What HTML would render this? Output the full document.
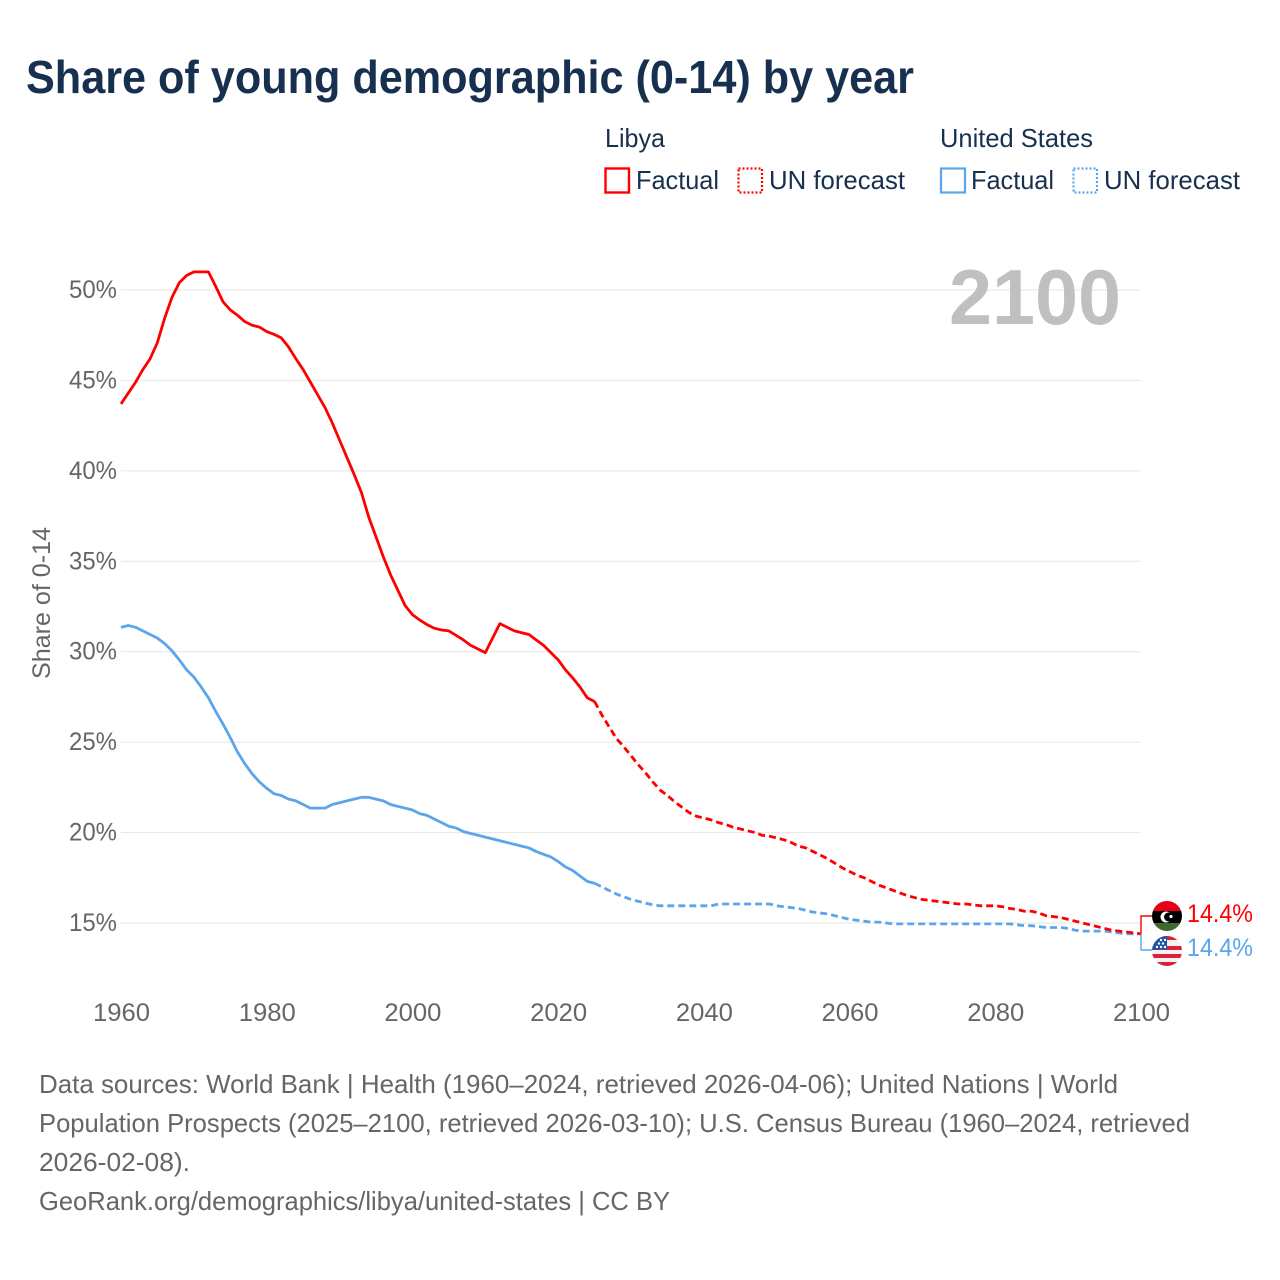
<!DOCTYPE html>
<html lang="en">
<head>
<meta charset="utf-8">
<title>Share of young demographic (0-14) by year</title>
<style>
html,body{margin:0;padding:0;background:#fff;width:1280px;height:1280px;overflow:hidden}
svg{display:block;font-family:"Liberation Sans",sans-serif}
.legend{font-size:26px;fill:#18304f}
.foot{font-size:26px;fill:#666}
.tick{font-size:25px;fill:#666}
</style>
</head>
<body>
<svg id="chart" width="1280" height="1280" viewBox="0 0 1280 1280" xmlns="http://www.w3.org/2000/svg">
  <text x="26" y="93" font-size="46" font-weight="700" fill="#18304f" textLength="888" lengthAdjust="spacingAndGlyphs">Share of young demographic (0-14) by year</text>

  <g>
    <text class="legend" x="605" y="147" textLength="60" lengthAdjust="spacingAndGlyphs">Libya</text>
    <rect x="605.5" y="168.5" width="23.5" height="24" fill="none" stroke="#ff0000" stroke-width="2.4"/>
    <text class="legend" x="636" y="189" textLength="83" lengthAdjust="spacingAndGlyphs">Factual</text>
    <rect x="738.5" y="168.5" width="23.5" height="24" fill="none" stroke="#ff0000" stroke-width="2.2" stroke-dasharray="2 2"/>
    <text class="legend" x="769" y="189" textLength="136" lengthAdjust="spacingAndGlyphs">UN forecast</text>

    <text class="legend" x="940" y="147" textLength="153" lengthAdjust="spacingAndGlyphs">United States</text>
    <rect x="941" y="168.5" width="24" height="24" fill="none" stroke="#5ba5ec" stroke-width="2.2"/>
    <text class="legend" x="971" y="189" textLength="83" lengthAdjust="spacingAndGlyphs">Factual</text>
    <rect x="1073.5" y="168.5" width="23.5" height="24" fill="none" stroke="#5ba5ec" stroke-width="2.2" stroke-dasharray="2 2"/>
    <text class="legend" x="1104" y="189" textLength="136" lengthAdjust="spacingAndGlyphs">UN forecast</text>
  </g>

  <g id="grid"></g>
  <text x="949" y="324" font-size="78" font-weight="700" fill="#c0c0c0" textLength="172" lengthAdjust="spacingAndGlyphs">2100</text>
  <g id="yLabels"></g>
  <g id="xLabels"></g>
  <text transform="translate(50,679) rotate(-90)" font-size="25" fill="#666" textLength="152" lengthAdjust="spacingAndGlyphs">Share of 0-14</text>
  <g id="series"></g>

  <defs>
    <clipPath id="clip-libya"><circle cx="1167" cy="916" r="15"/></clipPath>
    <clipPath id="clip-us"><circle cx="1167" cy="951" r="15"/></clipPath>
  </defs>
  <g clip-path="url(#clip-libya)">
    <rect x="1150" y="900" width="34" height="11" fill="#e70013"/>
    <rect x="1150" y="911" width="34" height="12" fill="#000"/>
    <rect x="1150" y="923" width="34" height="10" fill="#3f6a2b"/>
    <circle cx="1166" cy="917" r="5.5" fill="#fff"/>
    <circle cx="1168.5" cy="917" r="4.5" fill="#000"/>
    <circle cx="1171" cy="916.5" r="1.6" fill="#fff"/>
  </g>
  <g clip-path="url(#clip-us)">
    <rect x="1150" y="935" width="34" height="33" fill="#f2f2f2"/>
    <rect x="1150" y="935" width="34" height="5" fill="#d8233a"/>
    <rect x="1150" y="946" width="34" height="4" fill="#d8233a"/>
    <rect x="1150" y="954" width="34" height="4" fill="#d8233a"/>
    <rect x="1150" y="962" width="34" height="5" fill="#d8233a"/>
    <rect x="1150" y="935" width="17" height="14.5" fill="#1a52a8"/>
    <g fill="#fff">
      <circle cx="1157" cy="947" r="1.2"/><circle cx="1161" cy="947" r="1.2"/><circle cx="1165" cy="947" r="1.2"/>
      <circle cx="1159" cy="943.5" r="1.2"/><circle cx="1163" cy="943.5" r="1.2"/>
      <circle cx="1161" cy="940" r="1.2"/><circle cx="1165" cy="940" r="1.2"/>
    </g>
  </g>

  <g>
    <text class="foot" x="39" y="1093" textLength="1079" lengthAdjust="spacingAndGlyphs">Data sources: World Bank | Health (1960–2024, retrieved 2026-04-06); United Nations | World</text>
    <text class="foot" x="39" y="1132" textLength="1151" lengthAdjust="spacingAndGlyphs">Population Prospects (2025–2100, retrieved 2026-03-10); U.S. Census Bureau (1960–2024, retrieved</text>
    <text class="foot" x="39" y="1171" textLength="151" lengthAdjust="spacingAndGlyphs">2026-02-08).</text>
    <text class="foot" x="39" y="1210" textLength="631" lengthAdjust="spacingAndGlyphs">GeoRank.org/demographics/libya/united-states | CC BY</text>
  </g>
</svg>

<script>
const xTicks = [1960, 1980, 2000, 2020, 2040, 2060, 2080, 2100];
const yTicks = [15, 20, 25, 30, 35, 40, 45, 50];
const factualStartYear = 1960;
const forecastStartYear = 2025;

const libyaFactual = [
  43.7,44.3,44.9,45.6,46.2,47.1,48.45,49.6,50.4,50.8,
  51.0,51.0,51.0,50.2,49.35,48.9,48.6,48.25,48.05,47.95,
  47.7,47.55,47.35,46.85,46.2,45.6,44.9,44.2,43.5,42.65,
  41.7,40.75,39.8,38.8,37.45,36.35,35.25,34.25,33.4,32.55,
  32.05,31.75,31.5,31.3,31.2,31.15,30.9,30.65,30.35,30.15,
  29.95,30.75,31.55,31.35,31.15,31.05,30.95,30.65,30.35,29.95,
  29.55,29.0,28.55,28.05,27.45,27.25
];
const libyaForecast = [
  27.25,26.5,25.85,25.2,24.75,
  24.25,23.75,23.3,22.8,22.35,22.05,21.7,21.4,21.1,20.9,
  20.8,20.7,20.55,20.45,20.3,20.2,20.1,20.0,19.85,19.8,
  19.7,19.6,19.45,19.25,19.15,18.95,18.75,18.55,18.3,18.05,
  17.85,17.65,17.5,17.3,17.1,16.95,16.8,16.65,16.5,16.4,
  16.3,16.25,16.2,16.15,16.1,16.05,16.05,16.0,15.95,15.95,
  15.95,15.9,15.8,15.75,15.65,15.65,15.55,15.4,15.35,15.3,
  15.2,15.1,15.0,14.9,14.8,14.7,14.6,14.55,14.5,14.45,
  14.4
];
const usFactual = [
  31.35,31.45,31.35,31.15,30.95,30.75,30.45,30.05,29.55,29.0,
  28.6,28.05,27.45,26.7,26.0,25.25,24.45,23.8,23.25,22.8,
  22.45,22.15,22.05,21.85,21.75,21.55,21.35,21.35,21.35,21.55,
  21.65,21.75,21.85,21.95,21.95,21.85,21.75,21.55,21.45,21.35,
  21.25,21.05,20.95,20.75,20.55,20.35,20.25,20.05,19.95,19.85,
  19.75,19.65,19.55,19.45,19.35,19.25,19.15,18.95,18.8,18.65,
  18.4,18.1,17.9,17.6,17.3,17.2
];
const usForecast = [
  17.2,17.0,16.8,16.6,16.45,
  16.3,16.2,16.1,16.0,15.95,15.95,15.95,15.95,15.95,15.95,
  15.95,15.95,16.05,16.05,16.05,16.05,16.05,16.05,16.05,16.05,
  15.95,15.9,15.85,15.8,15.7,15.6,15.55,15.5,15.4,15.3,
  15.2,15.15,15.1,15.05,15.05,15.0,14.95,14.95,14.95,14.95,
  14.95,14.95,14.95,14.95,14.95,14.95,14.95,14.95,14.95,14.95,
  14.95,14.95,14.95,14.9,14.85,14.85,14.8,14.75,14.75,14.75,
  14.7,14.6,14.55,14.55,14.55,14.55,14.5,14.45,14.4,14.4,
  14.4
];

const NS = 'http://www.w3.org/2000/svg';
const RED = '#ff0000';
const BLUE = '#5ba5ec';

function xScale(year) { return 121 + (year - 1960) * (1141 - 121) / 140; }
function yScale(value) { return 923 - (value - 15) * (923 - 290) / 35; }

function make(tag, parent, attrs) {
  const el = document.createElementNS(NS, tag);
  Object.keys(attrs).forEach(function (k) { el.setAttribute(k, attrs[k]); });
  parent.appendChild(el);
  return el;
}

function linePoints(values, startYear) {
  return values.map(function (v, i) {
    return xScale(startYear + i).toFixed(2) + ',' + yScale(v).toFixed(2);
  }).join(' ');
}

const gridGroup = document.getElementById('grid');
const yLabelGroup = document.getElementById('yLabels');
const xLabelGroup = document.getElementById('xLabels');
const seriesGroup = document.getElementById('series');

yTicks.forEach(function (t) {
  const line = make('line', gridGroup, {
    x1: xScale(1960), x2: xScale(2100), y1: yScale(t), y2: yScale(t),
    stroke: '#e6e6e6', 'stroke-width': 1
  });
  
  
  const label = make('text', yLabelGroup, {
    x: 117, y: yScale(t) + 8, 'text-anchor': 'end', 'class': 'tick',
    textLength: 48, lengthAdjust: 'spacingAndGlyphs'
  });
  label.textContent = t + '%';
  
  
});

xTicks.forEach(function (t) {
  const label = make('text', xLabelGroup, {
    x: xScale(t) + 0.5, y: 1021, 'text-anchor': 'middle', 'class': 'tick',
    textLength: 57, lengthAdjust: 'spacingAndGlyphs'
  });
  label.textContent = String(t);
  
  
});

function drawLine(values, startYear, color, dashed, name) {
  const attrs = {
    points: linePoints(values, startYear), fill: 'none', stroke: color,
    'stroke-width': 2.8, 'stroke-linejoin': 'round'
  };
  if (dashed) { attrs['stroke-dasharray'] = '7 4'; }
  const el = make('polyline', seriesGroup, attrs);
  
  
}

drawLine(usFactual, factualStartYear, BLUE, false, 'line-us-factual');
drawLine(usForecast, forecastStartYear, BLUE, true, 'line-us-forecast');
drawLine(libyaFactual, factualStartYear, RED, false, 'line-libya-factual');
drawLine(libyaForecast, forecastStartYear, RED, true, 'line-libya-forecast');

function drawEnd(values, color, iconY, labelY, name) {
  const last = values[values.length - 1];
  const endX = xScale(2100);
  const endY = yScale(last);
  const conn = make('polyline', seriesGroup, {
    points: endX + ',' + endY.toFixed(2) + ' ' + endX + ',' + iconY + ' 1152,' + iconY,
    fill: 'none', stroke: color, 'stroke-width': 1.4
  });
  
  
  const text = make('text', seriesGroup, {
    x: 1187, y: labelY, 'font-size': 25, fill: color,
    textLength: 66, lengthAdjust: 'spacingAndGlyphs'
  });
  text.textContent = last.toFixed(1) + '%';
  
  
}

drawEnd(libyaForecast, RED, 916, 922, 'libya');
drawEnd(usForecast, BLUE, 950, 956, 'us');
</script>
</body>
</html>
